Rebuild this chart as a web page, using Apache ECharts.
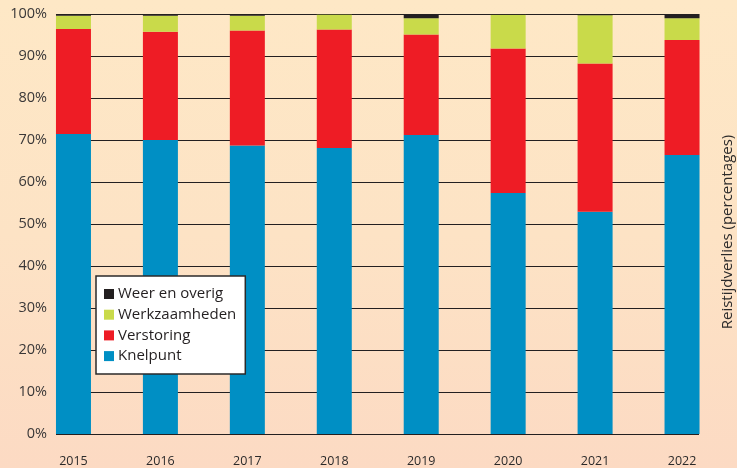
<!DOCTYPE html>
<html>
<head>
<meta charset="utf-8">
<script src="https://cdn.jsdelivr.net/npm/echarts@6/dist/echarts.min.js"></script>
<style>
  html, body { margin: 0; padding: 0; }
  body { background: linear-gradient(to bottom, #fee8c6 0%, #fde3c5 50%, #fcdac3 100%); }
  #chart { width: 737px; height: 468px; }
</style>
</head>
<body>
<div id="chart"></div>
<script>
var years = ['2015', '2016', '2017', '2018', '2019', '2020', '2021', '2022'];
var knelpunt = [71.4, 70.0, 68.7, 68.1, 71.2, 57.4, 52.9, 66.4];
var verstoring = [25.0, 25.8, 27.4, 28.2, 23.9, 34.4, 35.3, 27.4];
var werkzaamheden = [3.2, 3.8, 3.5, 3.6, 3.9, 8.0, 11.5, 5.2];
var weerOverig = [0.4, 0.4, 0.4, 0.1, 1.0, 0.2, 0.3, 1.0];
var yTicks = [0, 10, 20, 30, 40, 50, 60, 70, 80, 90, 100];

var font = 'Open Sans';
var myChart = echarts.init(document.getElementById('chart'));

function barSeries(name, data, color) {
  return {
    name: name,
    type: 'bar',
    stack: 'totaal',
    xAxisIndex: 1,
    yAxisIndex: 1,
    barWidth: 35,
    itemStyle: { color: color },
    data: data
  };
}

var option = {
  backgroundColor: 'transparent',
  animation: false,
  textStyle: { fontFamily: font },
  grid: [
    { left: 56, right: 38, top: 14, bottom: 34 },
    { left: 30, right: 11.5, top: 14, bottom: 34 }
  ],
  legend: {
    data: ['Weer en overig', 'Werkzaamheden', 'Verstoring', 'Knelpunt'],
    orient: 'vertical',
    left: 96,
    top: 276,
    z: 10,
    backgroundColor: '#ffffff',
    borderColor: '#2b2a2a',
    borderWidth: 1.5,
    borderRadius: 0,
    padding: [10, 9, 10, 8],
    itemWidth: 10,
    itemHeight: 10,
    itemGap: 4.7,
    icon: 'rect',
    textStyle: { fontFamily: font, fontSize: 15, color: '#231f20', lineHeight: 16, padding: [0, 0, 0, -1] }
  },
  xAxis: [
    { type: 'category', gridIndex: 0, data: years, show: false },
    {
      type: 'category',
      gridIndex: 1,
      data: years,
      axisLine: { show: false },
      axisTick: { show: false },
      axisLabel: { fontFamily: font, fontSize: 12.5, color: '#2b2a2a', margin: 21 }
    }
  ],
  yAxis: [
    {
      type: 'value',
      gridIndex: 0,
      min: 0,
      max: 100,
      interval: 10,
      axisLine: { show: false },
      axisTick: { show: false },
      axisLabel: {
        fontFamily: font,
        fontSize: 14.5,
        color: '#3a3838',
        margin: 9,
        formatter: function (v) { return yTicks.indexOf(v) >= 0 ? v + '%' : ''; }
      },
      splitLine: { lineStyle: { color: '#231f20', width: 1.2 } }
    },
    { type: 'value', gridIndex: 1, min: 0, max: 100, show: false }
  ],
  graphic: [
    {
      type: 'text',
      x: 728,
      y: 232,
      rotation: Math.PI / 2,
      style: {
        text: 'Reistijdverlies (percentages)',
        fontFamily: font,
        fontSize: 15,
        fill: '#2b2a2a',
        textAlign: 'center',
        textVerticalAlign: 'middle'
      }
    }
  ],
  series: [
    barSeries('Knelpunt', knelpunt, '#008fc4'),
    barSeries('Verstoring', verstoring, '#ee1c25'),
    barSeries('Werkzaamheden', werkzaamheden, '#c9da4a'),
    barSeries('Weer en overig', weerOverig, '#231f20')
  ]
};
myChart.setOption(option);
</script>
</body>
</html>
